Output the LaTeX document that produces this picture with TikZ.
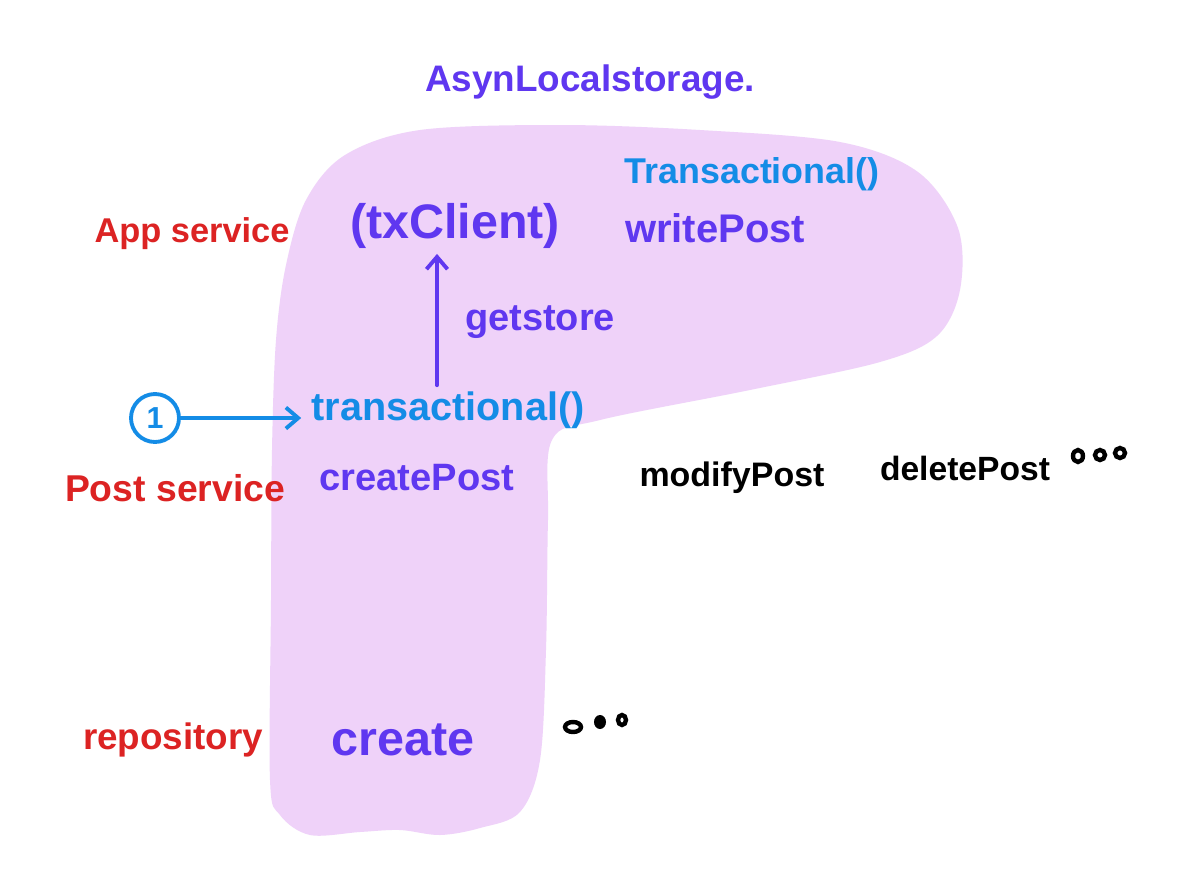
\documentclass[tikz,border=0pt]{standalone}
\usepackage{fontspec}
\setmainfont{Liberation Sans}
\usepackage{graphicx}
\usetikzlibrary{arrows.meta}
\definecolor{pinkbg}{HTML}{EFD2F9}
\definecolor{hred}{HTML}{DC2323}
\definecolor{hpurple}{HTML}{5F37F0}
\definecolor{hblue}{HTML}{148CE6}
\newcommand\fitw[2]{\resizebox{#1}{!}{#2}}
\begin{document}
\begin{tikzpicture}[x=0.02cm,y=-0.02cm,
  lbl/.style={inner sep=0pt, font=\bfseries},
  redlbl/.style={lbl, text=hred},
  purplbl/.style={lbl, text=hpurple},
  bluelbl/.style={lbl, text=hblue},
  blklbl/.style={lbl, text=black},
  conn/.style={line width=2.2pt, line cap=round, -{Straight Barb[length=7pt,width=12pt,line width=2.2pt]}},
  dotmark/.style={draw=black, line width=2.5pt}
]
\useasboundingbox (0,0) rectangle (1184,887);
\fill[white] (0,0) rectangle (1184,887);
% pink region
\fill[pinkbg] plot[smooth cycle, tension=0.55] coordinates {
 (270,780) (271,600) (272,450) (276,340) (286,265) (306,200) (345,155) (420,130)
 (560,125) (700,130) (840,142) (918,172) (958,228) (960,290) (937,336) (880,362)
 (750,390) (600,420) (552,440) (548,520) (546,650) (540,760) (520,812) (480,828)
 (440,835) (400,830) (360,832) (310,835) (280,815)};
% title
\node[purplbl] (title) at (590,82) {\fitw{6.6cm}{AsynLocalstorage.}};
% left labels
\node[redlbl] (app) at (192,234) {\fitw{3.9cm}{App service}};
\node[redlbl] (post) at (175,488) {\fitw{4.4cm}{Post service}};
\node[redlbl] (repo) at (173,740) {\fitw{3.6cm}{repository}};
% app level
\node[purplbl] (txc) at (455,226) {\fitw{4.2cm}{(txClient)}};
\node[bluelbl] (tx1) at (752,174) {\fitw{5.1cm}{Transactional()}};
\node[purplbl] (wp) at (715,228) {\fitw{3.6cm}{writePost}};
% post level
\node[bluelbl] (tx2) at (448,410) {\fitw{5.46cm}{transactional()}};
\node[purplbl] (cp) at (417,478) {\fitw{3.9cm}{createPost}};
\node[blklbl] (mp) at (732,478) {\fitw{3.7cm}{modifyPost}};
\node[blklbl] (dp) at (965,468) {\fitw{3.4cm}{deletePost}};
% repository level
\node[purplbl] (cr) at (403,740) {\fitw{2.86cm}{create}};
% getstore
\node[purplbl] (gs) at (540,322) {\fitw{3.0cm}{getstore}};
% circle 1
\node[circle, draw=hblue, line width=2.2pt, minimum size=0.96cm, inner sep=0pt, text=hblue, font=\bfseries\LARGE] (one) at (155,418) {1};
% connectors
\draw[conn, draw=hblue] (one.east) -- ([xshift=-0.2cm]tx2.west |- one.east);
\draw[conn, draw=hpurple] ([yshift=0.12cm]tx2.north -| 437,0) -- ([yshift=-0.1cm]txc.south -| 437,0);
% dots
\draw[dotmark] (1078,456) ellipse (5 and 6);
\draw[dotmark] (1100,455) ellipse (5 and 5);
\draw[dotmark] (1120,453) ellipse (5 and 5);
\draw[dotmark] (573,727) ellipse (8 and 5);
\fill[black] (600,722) ellipse (6 and 7);
\draw[dotmark] (622,720) ellipse (4 and 5);
\end{tikzpicture}
\end{document}
